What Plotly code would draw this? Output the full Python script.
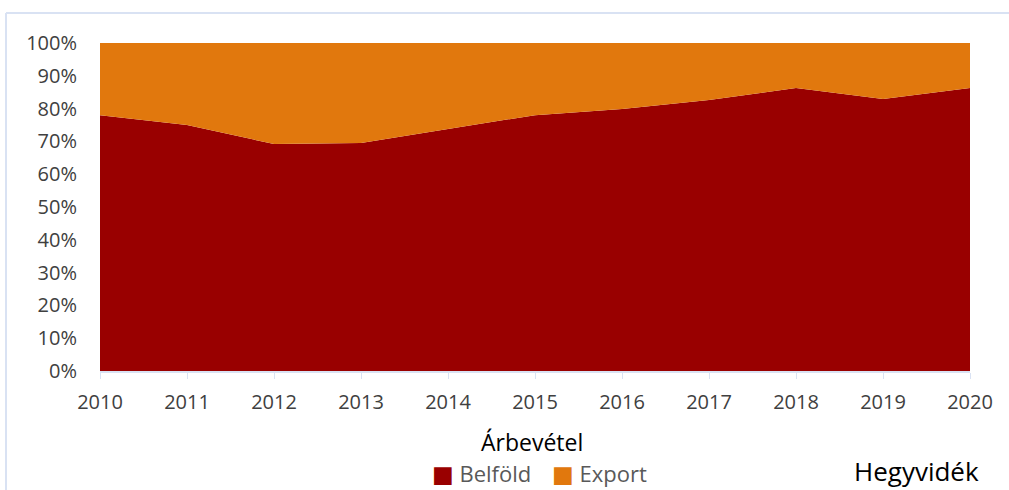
import plotly.graph_objects as go

# --- data ---
years = [2010, 2011, 2012, 2013, 2014, 2015, 2016, 2017, 2018, 2019, 2020]
belfold = [78.0, 75.0, 69.2, 69.5, 73.8, 78.0, 79.9, 82.6, 86.3, 82.9, 86.3]
export = [round(100 - v, 1) for v in belfold]
y_ticks = [0, 10, 20, 30, 40, 50, 60, 70, 80, 90, 100]
series_names = ['Belföld', 'Export']

COLORS = {
    'Belföld': '#990000',
    'Export': '#E1780D',
    'tick': '#404040',
    'legend': '#595959',
    'frame': '#D9E2F3',
}
FONT = "'Open Sans', 'Liberation Sans', sans-serif"

W, H = 1009, 490
M = dict(l=100, r=39, t=43, b=119)
pw = W - M['l'] - M['r']
ph = H - M['t'] - M['b']


def px_x(x):
    return (x - M['l']) / pw


def px_y(y):
    return (H - M['b'] - y) / ph


fig = go.Figure()
for name, vals in zip(series_names, [belfold, export]):
    fig.add_trace(go.Scatter(x=years, y=vals, stackgroup='one', mode='none',
                             fillcolor=COLORS[name], name=name, showlegend=False))

# legend built from coloured squares + text
legend_x = {'Belföld': 430, 'Export': 550}
legend_notes = [
    dict(text=(f'<span style="color:{COLORS[n]};font-family:DejaVu Sans;font-size:23px">■</span>'
               f' {n}'),
         xref='paper', yref='paper', x=px_x(legend_x[n]), y=px_y(473),
         xanchor='left', yanchor='middle', showarrow=False,
         font=dict(size=22, color=COLORS['legend']))
    for n in series_names
]

fig.update_layout(
    width=W, height=H,
    margin=M,
    plot_bgcolor='white', paper_bgcolor='white',
    font=dict(family=FONT, size=20, color=COLORS['tick']),
    showlegend=False,
    xaxis=dict(range=[2010, 2020], tickvals=years, ticktext=[str(y) for y in years],
               showgrid=False, zeroline=False, showline=True, linecolor=COLORS['frame'],
               linewidth=1.5, ticks='outside', ticklen=6, tickcolor=COLORS['frame'],
               ticklabelstandoff=6,
               tickfont=dict(size=20, color=COLORS['tick'])),
    yaxis=dict(range=[0, 100], tickvals=y_ticks, ticktext=[f"{v}%" for v in y_ticks],
               showgrid=False, zeroline=False, showline=False, ticks='',
               ticklabelstandoff=22,
               tickfont=dict(size=20, color=COLORS['tick'])),
    shapes=[
        dict(type='line', xref='paper', yref='paper', x0=px_x(6), x1=px_x(1012),
             y0=px_y(13), y1=px_y(13), line=dict(color=COLORS['frame'], width=2)),
        dict(type='line', xref='paper', yref='paper', x0=px_x(6), x1=px_x(6),
             y0=px_y(13), y1=px_y(495), line=dict(color=COLORS['frame'], width=2)),
    ],
    annotations=[
        dict(text='Árbevétel', xref='paper', yref='paper', x=px_x(532), y=px_y(442),
             xanchor='center', yanchor='middle', showarrow=False,
             font=dict(size=23, color='black')),
        dict(text='Hegyvidék', xref='paper', yref='paper', x=px_x(916), y=px_y(471),
             xanchor='center', yanchor='middle', showarrow=False,
             font=dict(size=26, color='black')),
    ] + legend_notes,
)

fig.write_html("out.html", config={'displayModeBar': False},
               post_script="document.body.style.margin='0';document.body.style.overflow='hidden';")
